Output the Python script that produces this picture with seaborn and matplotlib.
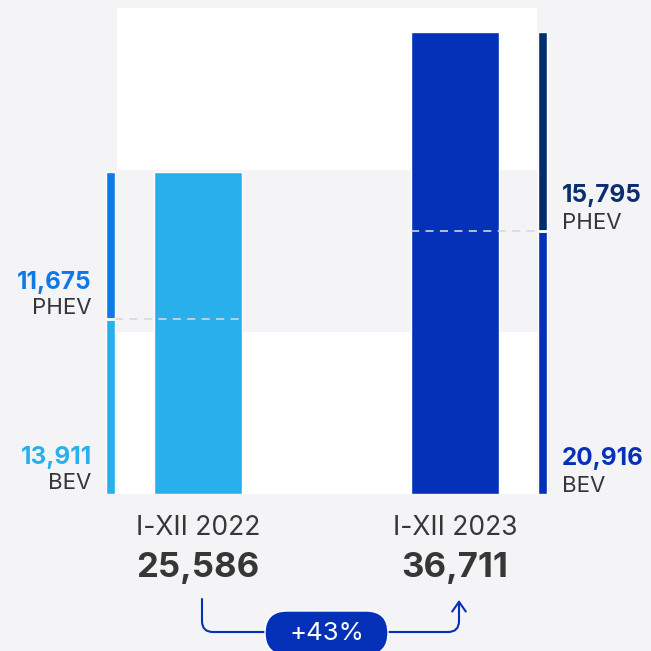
import numpy as np
import matplotlib
matplotlib.use("Agg")
import matplotlib.pyplot as plt
import seaborn as sns
from matplotlib.patches import Rectangle, FancyBboxPatch, FancyArrowPatch
from matplotlib.path import Path
import matplotlib.transforms as mtransforms

# ---- data ----
periods = ["I-XII 2022", "I-XII 2023"]
bev = np.array([13911, 20916])
phev = np.array([11675, 15795])
totals = bev + phev
type_labels = ["BEV", "PHEV"]
growth_pct = round((totals[1] / totals[0] - 1) * 100)

# ---- colours ----
BG = "#f4f4f7"
main_colors = ["#29b0ec", "#0431b8"]
bev_colors = ["#29b0ec", "#0431b8"]
phev_colors = ["#0f7ae5", "#002d6c"]
phev_text_colors = ["#0f7ae5", "#0a2f6e"]
DARK = "#363636"

sns.set_theme(style="white")
plt.rcParams["font.family"] = ["Inter", "DejaVu Sans"]

W = H = 651
fig = plt.figure(figsize=(W / 100, H / 100), dpi=100, facecolor=BG)
ax = fig.add_axes([0, (H - 494) / H, 1, 486 / H])
ax.set_facecolor(BG)

# background panel (white) with grey middle band
blend = mtransforms.blended_transform_factory(ax.transData, ax.transAxes)
ax.add_patch(Rectangle((-0.315, 0), 1.634, 1, transform=blend,
                       facecolor="white", edgecolor="none", zorder=0))
ax.add_patch(Rectangle((-0.315, 1 / 3), 1.634, 1 / 3, transform=blend,
                       facecolor=BG, edgecolor="none", zorder=0.5))

# main bars
sns.barplot(x=periods, y=totals, hue=periods, palette=main_colors,
            width=0.342, saturation=1, legend=False, ax=ax, zorder=2)

# side stacked bars
offsets = np.array([-0.34, 0.34])
side_x = np.arange(len(periods)) + offsets
side_w = 0.037
ax.bar(side_x, bev, width=side_w, color=bev_colors, zorder=2)
ax.bar(side_x, phev, bottom=bev, width=side_w, color=phev_colors, zorder=2)

# split gap and dashed guides
for i in range(len(periods)):
    ax.hlines(bev[i], side_x[i] - side_w / 2, side_x[i] + side_w / 2,
              color="white", lw=2, zorder=3)
    if i == 0:
        x0, x1 = side_x[i] + side_w / 2, i + 0.171
    else:
        x0, x1 = i - 0.171, side_x[i] - side_w / 2
    ax.hlines(bev[i], x0, x1, color="#d6d8de", lw=1.3,
              linestyles=(0, (4.5, 3.5)), alpha=0.9, zorder=3)

ax.set_xlim((0 - 198) / 257, (651 - 198) / 257)
ax.set_ylim(0, totals.max() * 486 / 462)
ax.axis("off")

# segment labels
for i in range(len(periods)):
    if i == 0:
        xy_x = side_x[i] - side_w / 2
        dx, ha = -14, "right"
    else:
        xy_x = side_x[i] + side_w / 2
        dx, ha = 15, "left"
    for seg_bottom, val, name, vcol in [(0, bev[i], "BEV", bev_colors[i]),
                                        (bev[i], phev[i], "PHEV", phev_text_colors[i])]:
        ax.annotate(f"{val:,}", xy=(xy_x, seg_bottom), xytext=(dx, 30 if i == 0 else 29),
                    textcoords="offset pixels", ha=ha, va="baseline",
                    fontsize=17.5, fontweight="bold", color=vcol,
                    annotation_clip=False)
        ax.annotate(name, xy=(xy_x, seg_bottom), xytext=(dx, 5 if i == 0 else 2),
                    textcoords="offset pixels", ha=ha, va="baseline",
                    fontsize=16, color=DARK, annotation_clip=False)

# category labels and totals
for i in range(len(periods)):
    ax.annotate(periods[i], xy=(i, 0), xytext=(0, -41), textcoords="offset pixels",
                ha="center", va="baseline", fontsize=19, fontweight="normal",
                color=DARK, annotation_clip=False)
    ax.annotate(f"{totals[i]:,}", xy=(i, 0), xytext=(0, -83), textcoords="offset pixels",
                ha="center", va="baseline", fontsize=25, fontweight="bold",
                color=DARK, annotation_clip=False)

# connector arrow
fig.canvas.draw()
xa = ax.transData.transform((0, 0))[0] + 4
xb = ax.transData.transform((1, 0))[0] + 4
y_top = H - 599
y_line = H - 632
r = 11
verts = [(xa, y_top), (xa, y_line + r), (xa, y_line), (xa + r, y_line),
         (xb - r, y_line), (xb, y_line), (xb, y_line + r), (xb, H - 600)]
codes = [Path.MOVETO, Path.LINETO, Path.CURVE3, Path.CURVE3,
         Path.LINETO, Path.CURVE3, Path.CURVE3, Path.LINETO]
arrow = FancyArrowPatch(path=Path(verts, codes), arrowstyle="->,head_length=0.5,head_width=0.35",
                        mutation_scale=14, color="#0431b8", lw=1.5,
                        transform=mtransforms.IdentityTransform())
fig.add_artist(arrow)

# growth pill
xc = (xa + xb) / 2 - 4
pill = FancyBboxPatch((xc - 61.5, H - 655), 123, 44,
                      boxstyle="round,pad=0,rounding_size=22",
                      facecolor="#0431b8", edgecolor="white", lw=1.0,
                      transform=mtransforms.IdentityTransform())
fig.add_artist(pill)
fig.text(xc / W, (H - 633) / H, f"+{growth_pct}%", ha="center", va="center",
         fontsize=18.5, color="white")

fig.savefig("out.png", dpi=100, facecolor=BG)
